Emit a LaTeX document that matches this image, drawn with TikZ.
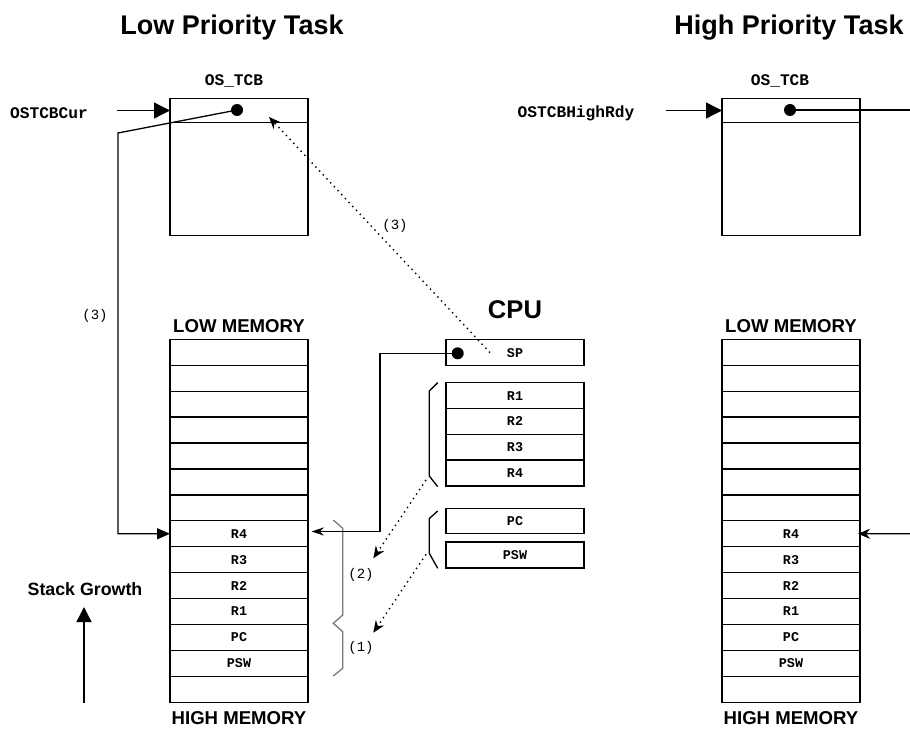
\documentclass[tikz,border=0pt]{standalone}
\usepackage{fontspec}
\setmainfont{Liberation Sans}
\newfontfamily\monof{Liberation Mono}
\usetikzlibrary{arrows.meta,calc}
\definecolor{braceg}{RGB}{120,120,120}
\begin{document}
\begin{tikzpicture}[x=0.5pt,y=-0.5pt,
  box/.style={draw, line width=0.65pt, minimum width=69pt, inner sep=0pt, outer sep=0pt,
    font=\monof\bfseries\fontsize{6.7}{7}\selectfont},
  row/.style={box, minimum height=12.96pt},
  heading/.style={font=\bfseries\fontsize{13.5}{15}\selectfont},
  mem/.style={font=\bfseries\fontsize{9.3}{10}\selectfont},
  code/.style={font=\monof\bfseries\fontsize{8.1}{9}\selectfont},
  lbl/.style={font=\monof\fontsize{7}{8}\selectfont},
  conn/.style={line width=0.65pt},
  ptr/.style={circle, fill, inner sep=0pt, minimum size=6pt},
  dotarrow/.style={dotted, line width=0.7pt, -{Stealth[length=6pt,width=5pt]}},
  bigtip/.style={conn, -{Triangle[length=8pt,width=8pt]}},
  midtip/.style={conn, -{Triangle[length=6.5pt,width=5.5pt]}},
  smalltip/.style={conn, -{Stealth[length=6pt,width=4pt]}},
  brk/.style={conn, line join=miter}
]
\useasboundingbox (0,0) rectangle (910,733);

% headings
\node[heading] (lpt) at (232,28) {Low Priority Task};
\node[heading] (hpt) at (789,28) {High Priority Task};

% ---- Low priority OS_TCB
\node[code] (ltcbl) at (234,81) {OS\_TCB};
\node[box, minimum height=12.2pt] (LTh) at (239,110.5) {};
\node[box, minimum height=56.4pt] (LTb) at (239,179.1) {};
\node[ptr] (ldot) at (237,110) {};
\node[code] (cur) at (49,113) {OSTCBCur};
\draw[bigtip] ($(LTh.west)+(-53,0)$) -- (LTh.west);

% ---- High priority OS_TCB
\node[code] (htcbl) at (780,81) {OS\_TCB};
\node[box, minimum height=12.2pt] (HTh) at (791,110.5) {};
\node[box, minimum height=56.4pt] (HTb) at (791,179.1) {};
\node[ptr] (hdot) at (790,110) {};
\node[code] (hrdy) at (576,113) {OSTCBHighRdy};
\draw[bigtip] ($(HTh.west)+(-56,0)$) -- (HTh.west);
\coordinate (hout) at (910,110);
\draw[conn] (hdot.center) -- (hout);

% ---- stacks
\node[mem] (llow) at (239,326) {LOW MEMORY};
\node[mem] (lhigh) at (239,718) {HIGH MEMORY};
\node[mem] (hlow) at (791,326) {LOW MEMORY};
\node[mem] (hhigh) at (791,718) {HIGH MEMORY};
\foreach \i/\t in {0/,1/,2/,3/,4/,5/,6/,7/R4,8/R3,9/R2,10/R1,11/PC,12/PSW,13/}{
  \node[row] (L\i) at (239,{339.3+(\i+0.5)*25.93}) {\t};
  \node[row] (H\i) at (791,{339.3+(\i+0.5)*25.93}) {\t};
}
\coordinate (hin) at (910,533.8);
\draw[conn, -{Stealth[length=6pt,width=5pt]}, shorten >=-1pt] (hin) -- (H7.east);

% ---- CPU
\node[font=\bfseries\fontsize{12.8}{14}\selectfont] (cpu) at (515,310) {CPU};
\node[row] (SP) at (515,352.6) {SP};
\node[row, minimum height=12.9pt] (R1) at (515,395.6) {R1};
\node[row, minimum height=12.9pt] (R2) at (515,421.4) {R2};
\node[row, minimum height=12.9pt] (R3) at (515,447.2) {R3};
\node[row, minimum height=12.9pt] (R4) at (515,473.1) {R4};
\node[row, minimum height=12.7pt] (PC) at (515,521) {PC};
\node[row, minimum height=13.1pt] (PSW) at (515,555) {PSW};
\node[ptr] (spdot) at (457.7,353.3) {};

% brackets next to CPU registers
\draw[brk] (437.7,382.7) -- (429.3,391) -- (429.3,476) -- (437.7,486.7);
\draw[brk] (437.7,511) -- (429.3,518.5) -- (429.3,553.3) -- (437.7,568.3);

% brace next to stack
\draw[brk, braceg] (333.3,520) -- (342.7,528.3) -- (342.7,615) -- (333.3,623.3)
  -- (342.7,631.7) -- (342.7,668.3) -- (333.3,676);

% SP -> stack R4
\coordinate (spb1) at (380,353.3);
\coordinate (spb2) at (380,531.5);
\coordinate (sptip) at (311.7,531.5);
\draw[smalltip] (spdot.center) -- (spb1) -- (spb2) -- (sptip);

% OSTCBCur -> stack R4
\coordinate (lbend) at (118,133);
\draw[midtip] (ldot.center) -- (lbend) |- (L7.west);

% dotted arrows
\coordinate (d3s) at (490,352.7);
\coordinate (d3e) at (269,117);
\draw[dotarrow] (d3s) -- (d3e);
\coordinate (d2s) at (426,480);
\coordinate (d2e) at (373.3,558.3);
\draw[dotarrow] (d2s) -- (d2e);
\coordinate (d1s) at (426,554.3);
\coordinate (d1e) at (373.3,632.7);
\draw[dotarrow] (d1s) -- (d1e);

% step labels
\node[lbl] (s3a) at (395,226) {(3)};
\node[lbl] (s3b) at (95,316) {(3)};
\node[lbl] (s2) at (361,575) {(2)};
\node[lbl] (s1) at (361,648) {(1)};

% stack growth
\node[font=\bfseries\fontsize{8.9}{10}\selectfont] (sg) at (85,589) {Stack Growth};
\coordinate (sg0) at (84,703);
\coordinate (sg1) at (84,607);
\draw[conn, -{Triangle[length=7.5pt,width=7.5pt]}] (sg0) -- (sg1);
\end{tikzpicture}
\end{document}
